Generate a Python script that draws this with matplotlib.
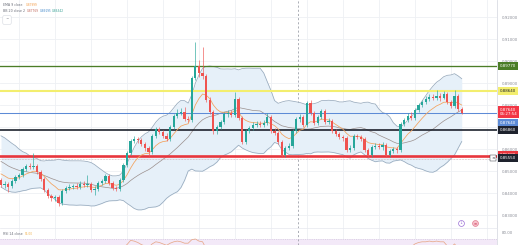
import matplotlib
matplotlib.use('Agg')
import matplotlib.pyplot as plt
import numpy as np
import pandas as pd
from matplotlib.transforms import blended_transform_factory
from matplotlib.lines import Line2D

plt.rcParams['font.family'] = ['DejaVu Sans']

# ---------------- data ----------------
warmup_close = [0.8650, 0.8632, 0.8641, 0.8614, 0.8595, 0.8605, 0.8586, 0.8568, 0.8582, 0.8559,
                0.8541, 0.8550, 0.8527, 0.8514, 0.8523, 0.8495, 0.8482, 0.8491, 0.8468, 0.8459]

opens = [0.8459, 0.8436, 0.8441, 0.8432, 0.8455, 0.8473, 0.8482, 0.8509, 0.8523, 0.8518,
         0.8523, 0.8495, 0.8464, 0.8414, 0.8386, 0.8377, 0.8382, 0.8355, 0.8409, 0.8423,
         0.8427, 0.8432, 0.8427, 0.8441, 0.8436, 0.8441, 0.8414, 0.8418, 0.8445, 0.8455,
         0.8477, 0.8445, 0.8423, 0.8418, 0.8459, 0.8527, 0.8582, 0.8636, 0.8645, 0.8641,
         0.8623, 0.8605, 0.8586, 0.8659, 0.8691, 0.8677, 0.8659, 0.8645, 0.8700, 0.8750,
         0.8764, 0.8768, 0.8736, 0.8732, 0.8923, 0.8977, 0.8945, 0.8932, 0.8823, 0.8768,
         0.8682, 0.8700, 0.8723, 0.8759, 0.8764, 0.8755, 0.8827, 0.8741, 0.8632, 0.8682,
         0.8695, 0.8709, 0.8714, 0.8709, 0.8718, 0.8745, 0.8682, 0.8673, 0.8632, 0.8573,
         0.8605, 0.8614, 0.8682, 0.8736, 0.8745, 0.8709, 0.8809, 0.8764, 0.8718, 0.8745,
         0.8773, 0.8723, 0.8727, 0.8682, 0.8668, 0.8655, 0.8650, 0.8595, 0.8605, 0.8659,
         0.8655, 0.8645, 0.8595, 0.8573, 0.8609, 0.8614, 0.8609, 0.8618, 0.8573, 0.8591,
         0.8600, 0.8595, 0.8714, 0.8732, 0.8750, 0.8741, 0.8777, 0.8800, 0.8814, 0.8827,
         0.8836, 0.8832, 0.8841, 0.8832, 0.8850, 0.8814, 0.8795, 0.8841, 0.8782]

highs = [0.8468, 0.8455, 0.8450, 0.8464, 0.8482, 0.8491, 0.8518, 0.8532, 0.8536, 0.8582,
         0.8532, 0.8505, 0.8473, 0.8423, 0.8395, 0.8391, 0.8391, 0.8418, 0.8432, 0.8441,
         0.8441, 0.8445, 0.8455, 0.8455, 0.8482, 0.8450, 0.8432, 0.8455, 0.8464, 0.8486,
         0.8486, 0.8455, 0.8432, 0.8468, 0.8536, 0.8591, 0.8645, 0.8659, 0.8655, 0.8650,
         0.8632, 0.8614, 0.8668, 0.8700, 0.8700, 0.8686, 0.8673, 0.8709, 0.8759, 0.8782,
         0.8786, 0.8791, 0.8750, 0.8932, 0.9086, 0.9005, 0.9064, 0.8941, 0.8836, 0.8777,
         0.8709, 0.8732, 0.8768, 0.8777, 0.8777, 0.8859, 0.8836, 0.8750, 0.8691, 0.8705,
         0.8723, 0.8727, 0.8727, 0.8732, 0.8764, 0.8755, 0.8695, 0.8682, 0.8641, 0.8614,
         0.8627, 0.8691, 0.8745, 0.8759, 0.8755, 0.8818, 0.8823, 0.8773, 0.8755, 0.8782,
         0.8782, 0.8741, 0.8736, 0.8691, 0.8677, 0.8664, 0.8659, 0.8618, 0.8668, 0.8668,
         0.8664, 0.8655, 0.8605, 0.8618, 0.8627, 0.8627, 0.8632, 0.8627, 0.8600, 0.8609,
         0.8609, 0.8723, 0.8741, 0.8764, 0.8768, 0.8786, 0.8809, 0.8823, 0.8841, 0.8850,
         0.8850, 0.8868, 0.8855, 0.8864, 0.8859, 0.8823, 0.8868, 0.8850, 0.8791]

lows = [0.8427, 0.8423, 0.8405, 0.8423, 0.8445, 0.8464, 0.8473, 0.8500, 0.8509, 0.8509,
        0.8486, 0.8455, 0.8405, 0.8377, 0.8364, 0.8364, 0.8341, 0.8345, 0.8400, 0.8414,
        0.8418, 0.8418, 0.8418, 0.8427, 0.8427, 0.8405, 0.8391, 0.8409, 0.8436, 0.8445,
        0.8436, 0.8414, 0.8409, 0.8409, 0.8450, 0.8518, 0.8573, 0.8627, 0.8627, 0.8614,
        0.8591, 0.8564, 0.8577, 0.8650, 0.8668, 0.8650, 0.8636, 0.8636, 0.8691, 0.8741,
        0.8755, 0.8727, 0.8723, 0.8723, 0.8914, 0.8927, 0.8918, 0.8814, 0.8759, 0.8668,
        0.8668, 0.8691, 0.8714, 0.8745, 0.8745, 0.8745, 0.8732, 0.8623, 0.8623, 0.8673,
        0.8686, 0.8700, 0.8700, 0.8700, 0.8709, 0.8673, 0.8664, 0.8623, 0.8564, 0.8564,
        0.8595, 0.8605, 0.8673, 0.8723, 0.8700, 0.8700, 0.8755, 0.8709, 0.8709, 0.8736,
        0.8714, 0.8714, 0.8673, 0.8659, 0.8645, 0.8636, 0.8586, 0.8586, 0.8595, 0.8645,
        0.8636, 0.8586, 0.8564, 0.8564, 0.8600, 0.8600, 0.8595, 0.8564, 0.8564, 0.8582,
        0.8582, 0.8586, 0.8705, 0.8723, 0.8732, 0.8732, 0.8768, 0.8791, 0.8805, 0.8818,
        0.8823, 0.8823, 0.8818, 0.8827, 0.8805, 0.8786, 0.8786, 0.8773, 0.8759]

closes = [0.8436, 0.8441, 0.8427, 0.8455, 0.8473, 0.8482, 0.8509, 0.8523, 0.8518, 0.8523,
          0.8495, 0.8464, 0.8414, 0.8386, 0.8377, 0.8382, 0.8355, 0.8409, 0.8423, 0.8427,
          0.8432, 0.8427, 0.8441, 0.8436, 0.8441, 0.8414, 0.8418, 0.8445, 0.8455, 0.8477,
          0.8445, 0.8423, 0.8418, 0.8459, 0.8527, 0.8582, 0.8636, 0.8645, 0.8641, 0.8623,
          0.8605, 0.8586, 0.8659, 0.8691, 0.8677, 0.8659, 0.8645, 0.8700, 0.8750, 0.8764,
          0.8768, 0.8736, 0.8732, 0.8923, 0.8977, 0.8945, 0.8932, 0.8823, 0.8768, 0.8682,
          0.8700, 0.8723, 0.8759, 0.8764, 0.8755, 0.8827, 0.8741, 0.8632, 0.8682, 0.8695,
          0.8709, 0.8714, 0.8709, 0.8718, 0.8745, 0.8682, 0.8673, 0.8632, 0.8573, 0.8605,
          0.8614, 0.8682, 0.8736, 0.8745, 0.8709, 0.8809, 0.8764, 0.8718, 0.8745, 0.8773,
          0.8723, 0.8727, 0.8682, 0.8668, 0.8655, 0.8650, 0.8595, 0.8605, 0.8659, 0.8655,
          0.8645, 0.8595, 0.8573, 0.8609, 0.8614, 0.8609, 0.8618, 0.8573, 0.8591, 0.8600,
          0.8595, 0.8714, 0.8732, 0.8750, 0.8741, 0.8777, 0.8800, 0.8814, 0.8827, 0.8836,
          0.8832, 0.8841, 0.8832, 0.8850, 0.8814, 0.8795, 0.8841, 0.8782, 0.8764]

# RSI(14) values (only the upper part of the pane is visible)
rsi_values = [45, 43, 42, 47, 51, 53, 58, 60, 59, 60,
              53, 46, 38, 33, 32, 33, 29, 41, 44, 45,
              46, 45, 48, 47, 48, 42, 43, 49, 51, 55,
              48, 44, 43, 52, 58, 62, 68, 67, 65, 62,
              60, 58, 63, 66, 65, 63, 61, 64, 66, 67,
              66, 64, 64, 69, 70, 67, 66, 56, 52, 46,
              48, 50, 54, 55, 54, 59, 51, 42, 47, 48,
              50, 50, 50, 51, 54, 47, 46, 42, 37, 41,
              42, 49, 54, 55, 51, 60, 54, 49, 52, 55,
              49, 50, 45, 44, 42, 42, 37, 38, 45, 45,
              44, 39, 37, 42, 43, 42, 44, 39, 41, 43,
              42, 56, 58, 60, 59, 63, 65, 66, 66, 67,
              66, 67, 66, 66, 60, 58, 63, 57, 55]

level_prices = [0.8977, 0.8864, 0.8764, 0.8686, 0.8568]
level_colors = ['#4b7d27', '#f3ee6e', '#5d8bd6', '#1e222d', '#e8363d']
level_widths = [0.95, 1.5, 0.75, 1.2, 1.9]
level_tag_text = ['#ffffff', '#1e222d', '#ffffff', '#ffffff', '#ffffff']
level_tag_shift_px = [0, 0, 10, 0, -1]
alert_price = 0.8555
price_ticks = [0.83, 0.84, 0.85, 0.86, 0.87, 0.88, 0.89, 0.90, 0.91, 0.92]
countdown = '06:27:54'
rsi_tick = 80.0
divider_index = 82.5

# ---------------- indicators ----------------
all_close = pd.Series(warmup_close + closes)
nw = len(warmup_close)
ema9 = all_close.ewm(span=9, adjust=False).mean().values[nw:]
basis = all_close.rolling(20, min_periods=1).mean()
sd = all_close.rolling(20, min_periods=1).std(ddof=0)
bb_mid = basis.values[nw:]
bb_up = (basis + 2 * sd).values[nw:]
bb_lo = (basis - 2 * sd).values[nw:]
rsi = np.array(rsi_values, dtype=float)

# ---------------- figure ----------------
W, H = 520, 245
fig = plt.figure(figsize=(W / 100, H / 100), dpi=100)
fig.patch.set_facecolor('white')


def frac(x0, y0, x1, y1):
    return [x0 / W, 1 - y1 / H, (x1 - x0) / W, (y1 - y0) / H]


ax = fig.add_axes(frac(0, 0, 497, 228))
axr = fig.add_axes(frac(0, 228, 497, 245), sharex=ax)

o = np.array(opens); h = np.array(highs); l = np.array(lows); c = np.array(closes)
n = len(c)
x = np.arange(n)

ax.set_xlim(-0.28, 137.8)
ax.set_ylim(0.9 - 167 / 2200, 0.9 + 61 / 2200)

grid_c = '#eef0f4'
vgrid = np.arange(5, 136, 10)
for a in (ax, axr):
    for v in vgrid:
        a.axvline(v, color=grid_c, lw=0.6, zorder=0)
    a.axvline(divider_index, color='#9ea1aa', lw=0.6, ls=(0, (2.5, 2.5)), zorder=1)
    for s in ('top', 'left', 'bottom'):
        a.spines[s].set_visible(False)
    a.spines['right'].set_color('#d9dce3')
    a.spines['right'].set_linewidth(0.6)
    a.tick_params(axis='x', length=0, labelbottom=False)
    a.set_facecolor('white')

for p in price_ticks:
    ax.axhline(p, color=grid_c, lw=0.6, zorder=0)
ax.yaxis.tick_right()
ax.set_yticks(price_ticks)
ax.set_yticklabels([f'{p:.5f}' for p in price_ticks])
ax.tick_params(axis='y', length=0, pad=3.6, labelsize=2.9, labelcolor='#8c8f98')

# Bollinger bands
ax.fill_between(x, bb_lo, bb_up, color='#e6f0f9', lw=0, zorder=1)
ax.plot(x, bb_up, color='#97aabd', lw=0.55, zorder=2)
ax.plot(x, bb_lo, color='#97aabd', lw=0.55, zorder=2)
ax.plot(x, bb_mid, color='#9a8f8d', lw=0.5, zorder=2)

# horizontal levels
for p, col, lw in zip(level_prices, level_colors, level_widths):
    ax.axhline(p, color=col, lw=lw, zorder=3)
ax.axhline(alert_price, color='#c9a3a6', lw=0.5, ls=(0, (1, 1.2)), zorder=3)

# EMA
ax.plot(x, ema9, color='#f3a15b', lw=0.55, zorder=4)

# candles
up = c >= o
cols = np.where(up, '#26a69a', '#ef5350')
ax.vlines(x, l, h, colors=cols, lw=0.45, zorder=5)
ax.bar(x, np.maximum(np.abs(c - o), 0.00012), bottom=np.minimum(o, c), width=0.62,
       color=cols, lw=0, zorder=6)

# right price tags
tr = blended_transform_factory(ax.transAxes, ax.transData)
px = 1 / 2200


def tag(price, text, fc, tc, shift_px=0):
    ax.text(1.0 + 2.5 / 497, price - shift_px * px, text, transform=tr, fontsize=2.9,
            color=tc, va='center', ha='left', clip_on=False, zorder=20,
            bbox=dict(boxstyle='square,pad=0.45', fc=fc, ec='none'))


for p, col, tc, sh in zip(level_prices, level_colors, level_tag_text, level_tag_shift_px):
    tag(p, f'{p:.5f}', col, tc, sh)
tag(alert_price, f'{alert_price:.5f}', '#1e222d', '#ffffff', -1)
ax.text(0.992, alert_price + px, '×', transform=tr, fontsize=3.2, color='#1e222d',
        va='center', ha='center', clip_on=False, zorder=20,
        bbox=dict(boxstyle='square,pad=0.2', fc='white', ec='#1e222d', lw=0.3))
last = c[-1]
ax.text(1.0 + 2.5 / 497, last + 1 * px, f'{last:.5f}\n{countdown}', transform=tr,
        fontsize=2.9, color='white', va='center', ha='left', clip_on=False, zorder=21,
        linespacing=1.25, bbox=dict(boxstyle='square,pad=0.45', fc='#f23645', ec='none'))

# RSI pane
axr.set_ylim(70 - 6 * 10 / 7, 70 + 11 * 10 / 7)
axr.axhspan(30, 70, color='#f3e9f8', lw=0, zorder=0)
axr.axhline(70, color='#c9bfd6', lw=0.4, ls=(0, (2, 2)), zorder=1)
axr.plot(x, rsi, color='#e7a98a', lw=0.55, zorder=3)
axr.spines['top'].set_visible(True)
axr.spines['top'].set_color('#e6e8ee')
axr.spines['top'].set_linewidth(0.5)
axr.yaxis.tick_right()
axr.set_yticks([rsi_tick])
axr.set_yticklabels([f'{rsi_tick:.2f}'])
axr.tick_params(axis='y', length=0, pad=3.6, labelsize=2.9, labelcolor='#8c8f98')


# headers
def ftxt(xp, yp, s, col, size=2.3, **kw):
    fig.text(xp / W, 1 - yp / H, s, color=col, fontsize=size, va='center', ha='left', **kw)


ftxt(3, 4.5, 'EMA 9 close', '#6a6d78')
ftxt(26, 4.5, f'{ema9[-1]:.5f}', '#f39c47', size=2.1)
ftxt(3, 11, 'BB 20 close 2', '#6a6d78')
ftxt(27, 11, f'{bb_mid[-1]:.5f}', '#c0665a', size=2.1)
ftxt(39.5, 11, f'{bb_up[-1]:.5f}', '#3f86c9', size=2.1)
ftxt(52, 11, f'{bb_lo[-1]:.5f}', '#2e9c8f', size=2.1)
fig.text(7 / W, 1 - 20 / H, '^', color='#6a6d78', fontsize=3.0, ha='center', va='center',
         bbox=dict(boxstyle='round,pad=0.6,rounding_size=0.4', fc='white', ec='#d5d8df', lw=0.4))
ftxt(3, 234, 'RSI 14 close', '#6a6d78')
ftxt(25, 234, f'{rsi[-1]:.2f}', '#f0b04a', size=2.1)

# event icons
fig.add_artist(Line2D([461 / W], [1 - 223 / H], marker='o', ms=4.2, mfc='white', mec='#9b6fd6',
                      mew=0.5, transform=fig.transFigure))
fig.text(461 / W, 1 - 223 / H, '↓', color='#9b6fd6', fontsize=2.8, ha='center', va='center')
fig.add_artist(Line2D([475 / W], [1 - 223 / H], marker='o', ms=4.2, mfc='#f6c1cc', mec='#e27d92',
                      mew=0.5, transform=fig.transFigure))
fig.text(475 / W, 1 - 223 / H, '≡', color='#d9607a', fontsize=2.8, ha='center', va='center')

fig.savefig('out.png', dpi=100, facecolor='white')
